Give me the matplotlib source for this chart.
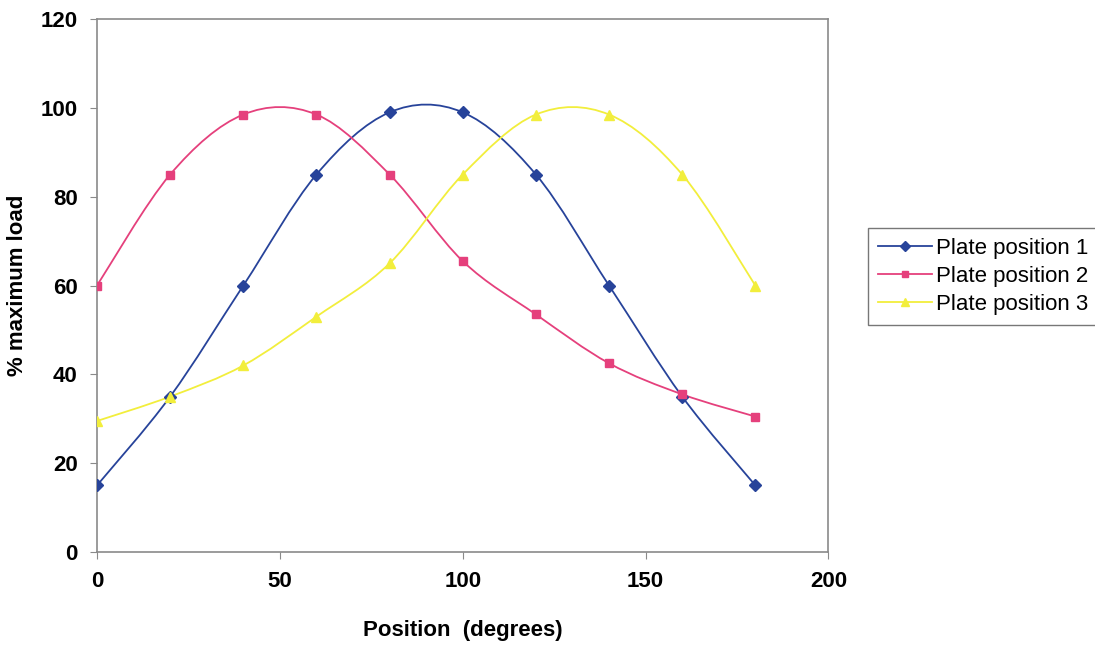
import numpy as np
import matplotlib.pyplot as plt
from matplotlib.path import Path
from matplotlib.patches import PathPatch
from matplotlib.lines import Line2D

plt.rcParams['font.family'] = ['Liberation Sans', 'DejaVu Sans']

# Data
position = [0, 20, 40, 60, 80, 100, 120, 140, 160, 180]
plate1 = [15, 35, 60, 85, 99, 99, 85, 60, 35, 15]
plate2 = [60, 85, 98.5, 98.5, 85, 65.5, 53.5, 42.5, 35.5, 30.5]
plate3 = [29.5, 35, 42, 53, 65, 85, 98.5, 98.5, 85, 60]
labels = ['Plate position 1', 'Plate position 2', 'Plate position 3']
colors = ['#27439A', '#E5407C', '#F2EE3C']
markers = ['D', 's', '^']
msizes = [6, 6, 7]


def smooth_path(x, y):
    # Excel-style smoothed line: cubic Bezier segments through each point
    p = np.column_stack([x, y]).astype(float)
    n = len(p)
    verts = [p[0]]
    codes = [Path.MOVETO]
    for i in range(n - 1):
        p0 = p[i - 1] if i > 0 else p[i]
        p3 = p[i + 2] if i + 2 < n else p[i + 1]
        c1 = p[i] + (p[i + 1] - p0) / 6
        c2 = p[i + 1] - (p3 - p[i]) / 6
        verts += [c1, c2, p[i + 1]]
        codes += [Path.CURVE4] * 3
    return Path(verts, codes)


fig = plt.figure(figsize=(10.95, 6.46), dpi=100)
ax = fig.add_axes([0.0886, 0.1455, 0.668, 0.825])

handles = []
for ys, lab, c, m, ms in zip([plate1, plate2, plate3], labels, colors, markers, msizes):
    ax.add_patch(PathPatch(smooth_path(position, ys), facecolor='none',
                           edgecolor=c, lw=1.3, zorder=2))
    ax.plot(position, ys, linestyle='none', marker=m, color=c, ms=ms, zorder=3)
    handles.append(Line2D([], [], color=c, marker=m, ms=ms - 1, lw=1.3, label=lab))

ax.set_xlim(0, 200)
ax.set_ylim(0, 120)
ax.set_xticks([0, 50, 100, 150, 200])
ax.set_yticks([0, 20, 40, 60, 80, 100, 120])
for s in ax.spines.values():
    s.set_color('#8a8a8a')
    s.set_linewidth(1.2)
ax.tick_params(direction='out', length=5, color='#8a8a8a', labelsize=16, pad=9)
for t in ax.get_xticklabels() + ax.get_yticklabels():
    t.set_fontweight('bold')

ax.set_xlabel('Position  (degrees)', fontsize=16, fontweight='bold', labelpad=20)
ax.set_ylabel('% maximum load', fontsize=16, fontweight='bold', labelpad=9)

leg = fig.legend(handles=handles, loc='upper left', bbox_to_anchor=(0.793, 0.647),
                 fontsize=16, frameon=True, fancybox=False, edgecolor='#555555',
                 handlelength=2.4, handletextpad=0.2, labelspacing=0.32,
                 borderpad=0.45, borderaxespad=0)
leg.get_frame().set_linewidth(1.0)

fig.savefig('out.png', dpi=100)
